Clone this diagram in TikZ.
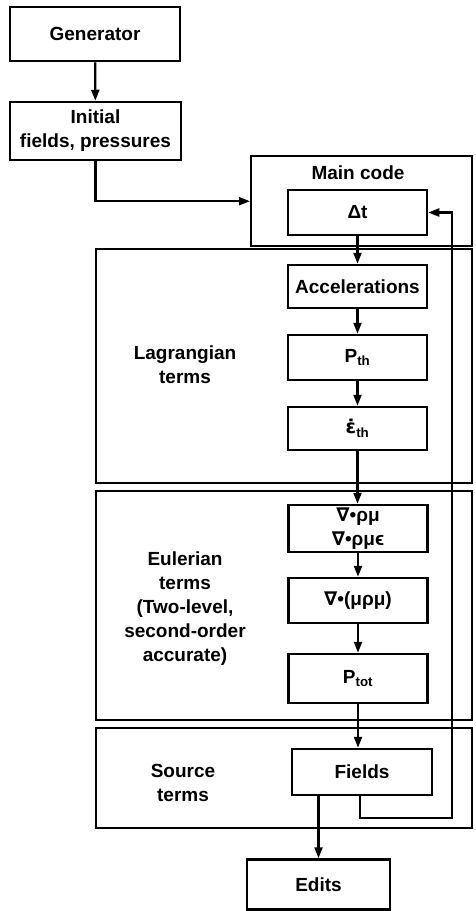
\documentclass[tikz,border=0pt]{standalone}
\usepackage{fontspec}
\setmainfont{Liberation Sans}
\newfontfamily\symf{DejaVu Sans}
\usetikzlibrary{arrows.meta}
\begin{document}
\begin{tikzpicture}[x=1pt,y=-1pt,
  txt/.style={font=\bfseries\fontsize{19}{24}\selectfont, align=center, inner sep=0pt},
  box/.style={txt, draw, line width=2.5pt, rectangle},
  region/.style={draw, line width=2.4pt, rectangle, inner sep=0pt, anchor=north west},
  arr/.style={line width=2.2pt, -{Triangle[length=11pt,width=8pt]}},
  ln/.style={line width=2.2pt}]
\useasboundingbox (0,0) rectangle (475,911);
% regions
\node[region, minimum width=221pt, minimum height=90pt] (main) at (250,155) {};
\node[region, minimum width=376pt, minimum height=234pt] (lag) at (95,248) {};
\node[region, minimum width=376pt, minimum height=229pt] (eul) at (95,490) {};
\node[region, minimum width=376pt, minimum height=100pt] (src) at (95,727) {};
% region labels
\node[txt] (mainlbl) at (358,173) {Main code};
\node[txt] (laglbl) at (185,365) {Lagrangian\\terms};
\node[txt] (eullbl) at (185,609) {Eulerian\\terms\\(Two-level,\\second-order\\accurate)};
\node[txt] (srclbl) at (183,783) {Source\\terms};
% boxes
\node[box, minimum width=170pt, minimum height=54pt] (gen) at (95,34) {Generator};
\node[box, minimum width=171pt, minimum height=58pt] (init) at (95.5,131) {Initial\\fields, pressures};
\node[box, minimum width=139pt, minimum height=45pt] (dt) at (357.5,212.5) {Δt};
\node[box, minimum width=139pt, minimum height=43pt] (acc) at (357.5,286.5) {Accelerations};
\node[box, minimum width=139pt, minimum height=45pt] (pth) at (357.5,357.5) {P\textsubscript{th}};
\node[box, minimum width=139pt, minimum height=43pt] (eps) at (357.5,428.5) {{\symf ε̇}\textsubscript{th}};
\node[box, minimum width=139pt, minimum height=47pt] (nab1) at (358,528.5) {{\symf ∇}•ρμ\\{\symf ∇}•ρμϵ};
\node[box, minimum width=139pt, minimum height=45pt] (nab2) at (358,600.5) {{\symf ∇}•(μρμ)};
\node[box, minimum width=139pt, minimum height=49pt] (ptot) at (358,678.5) {P\textsubscript{tot}};
\node[box, minimum width=140pt, minimum height=46pt] (fields) at (362,772) {Fields};
\node[box, minimum width=143pt, minimum height=50pt] (edits) at (318.5,884.5) {Edits};
% connectors
\coordinate (fb) at (360,818);
\coordinate (fbr) at (452,818);
\draw[arr] (gen) -- (init);
\draw[arr] (init.south) |- (main.west);
\draw[arr] (dt) -- (acc);
\draw[arr] (acc) -- (pth);
\draw[arr] (pth) -- (eps);
\draw[arr] (eps.south) -- (eps.south |- nab1.north);
\draw[arr] (nab1) -- (nab2);
\draw[arr] (nab2) -- (ptot);
\draw[arr] (ptot.south) -- (ptot.south |- fields.north);
\draw[arr] (edits.north |- fields.south) -- (edits.north);
\draw[arr] (fields.south -| fb) -- (fb) -- (fbr) |- (dt.east);
\end{tikzpicture}
\end{document}
